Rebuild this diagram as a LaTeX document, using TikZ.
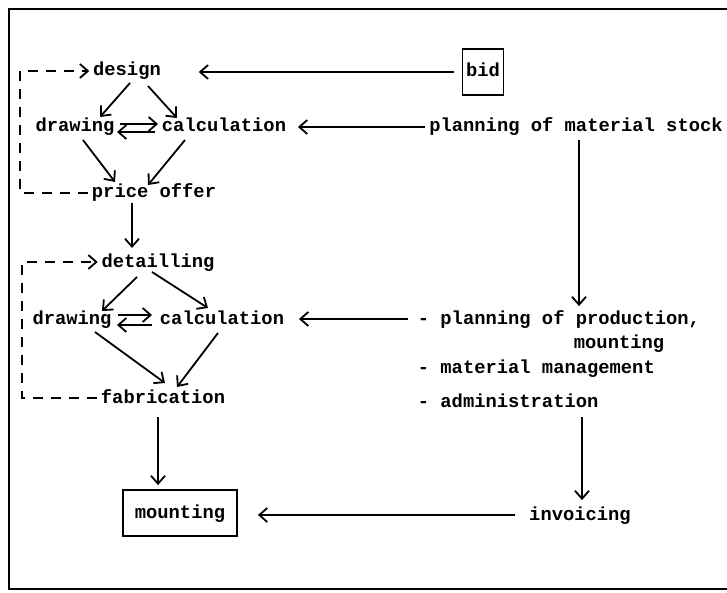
\documentclass[tikz,border=0pt]{standalone}
\usepackage{fontspec}
\setmonofont{Liberation Mono}
\usetikzlibrary{calc,arrows.meta}

\begin{document}
\begin{tikzpicture}[x = 0.5pt, y = -0.5pt, line width = 0.9pt,
  >={Straight Barb[length=4pt,width=7pt]},
  lbl/.style = {inner sep = 1.5pt, text height = 7pt, text depth = 2pt,
    font = \ttfamily\bfseries\fontsize{9.4}{11}\selectfont},
  boxed/.style = {lbl, draw, minimum height = 23pt},
  back/.style = {->, dash pattern = on 5pt off 4pt}]
\useasboundingbox (0,0) rectangle (727,593);
\draw (727,9) -- (9,9) -- (9,589) -- (727,589);
% offer stage
\node (design) [lbl] at (127,71) {design};
\node (bid) [boxed, minimum width = 20.5pt] at (483,72) {bid};
\node (draw1) [lbl] at (75,127) {drawing};
\node (calc1) [lbl] at (224,127) {calculation};
\node (stock) [lbl] at (576,127) {planning of material stock};
\node (offer) [lbl] at (154,193) {price offer};
\coordinate (back1) at (20,71);
% order stage
\node (detail) [lbl] at (158,262) {detailling};
\node (draw2) [lbl] at (72,319) {drawing};
\node (calc2) [lbl] at (222,319) {calculation};
\node (prod) [lbl, anchor = west] at (414,319) {- planning of production,};
\node (prodm) [lbl, anchor = west] at ($(prod.west)+(156,24)$) {mounting};
\node (mat) [lbl, anchor = west] at (414,368) {- material management};
\node (admin) [lbl, anchor = west] at (414,402) {- administration};
\node (fab) [lbl] at (163,398) {fabrication};
\coordinate (back2) at (22,262);
\node (mount) [boxed, minimum width = 57pt] at (180,513) {mounting};
\node (invoice) [lbl] at (580,515) {invoicing};
% connectors
\draw [->] ($(bid.west)+(-8,0)$) -- ($(bid.west -| design.east)+(34,0)$);
\draw [->] (stock.west) -- ($(calc1.east)+(8,0)$);
\draw [->] ($(design)+(3,12)$) -- ($(draw1)+(25,-10)$);
\draw [->] ($(design)+(21,15)$) -- ($(calc1)+(-47,-9)$);
\draw [->] ($(draw1)+(45,-3)$) -- ($(calc1)+(-66,-3)$);
\draw [->] ($(calc1)+(-69,5)$) -- ($(draw1)+(42,5)$);
\draw [->] ($(draw1)+(8,13)$) -- ($(offer)+(-39,-11)$);
\draw [->] ($(calc1)+(-39,13)$) -- ($(offer)+(-6,-8)$);
\draw [back] (offer.west) -| (back1) -- (design.west);
\draw [->] ($(offer)+(-22,10)$) -- ($(detail)+(-26,-14)$);
\draw [->] ($(detail)+(-21,15)$) -- ($(draw2)+(30,-8)$);
\draw [->] ($(detail)+(-6,10)$) -- ($(calc2)+(-14,-11)$);
\draw [->] ($(draw2)+(46,-4)$) -- ($(calc2)+(-70,-4)$);
\draw [->] ($(calc2)+(-70,6)$) -- ($(draw2)+(45,6)$);
\draw [->] ($(draw2)+(23,13)$) -- ($(fab)+(2,-15)$);
\draw [->] ($(calc2)+(-4,14)$) -- ($(fab)+(14,-11)$);
\draw [back] (fab.west) -| (back2) -- (detail.west);
\draw [->] ($(stock.south)+(3,0)$) -- ($(prod.north west)+(165,0)$);
\draw [->] ($(prod.west)+(-6,0)$) -- ($(calc2.east)+(11,0)$);
\draw [->] ($(admin.south west)+(168,2)$) -- ($(invoice.north)+(2,-2)$);
\draw [->] ($(invoice.west)+(-10,0)$) -- ($(invoice.west -| mount.east)+(20,0)$);
\draw [->] ($(fab)+(-5,19)$) -- ($(mount.north)+(-22,-4)$);
\end{tikzpicture}
\end{document}
